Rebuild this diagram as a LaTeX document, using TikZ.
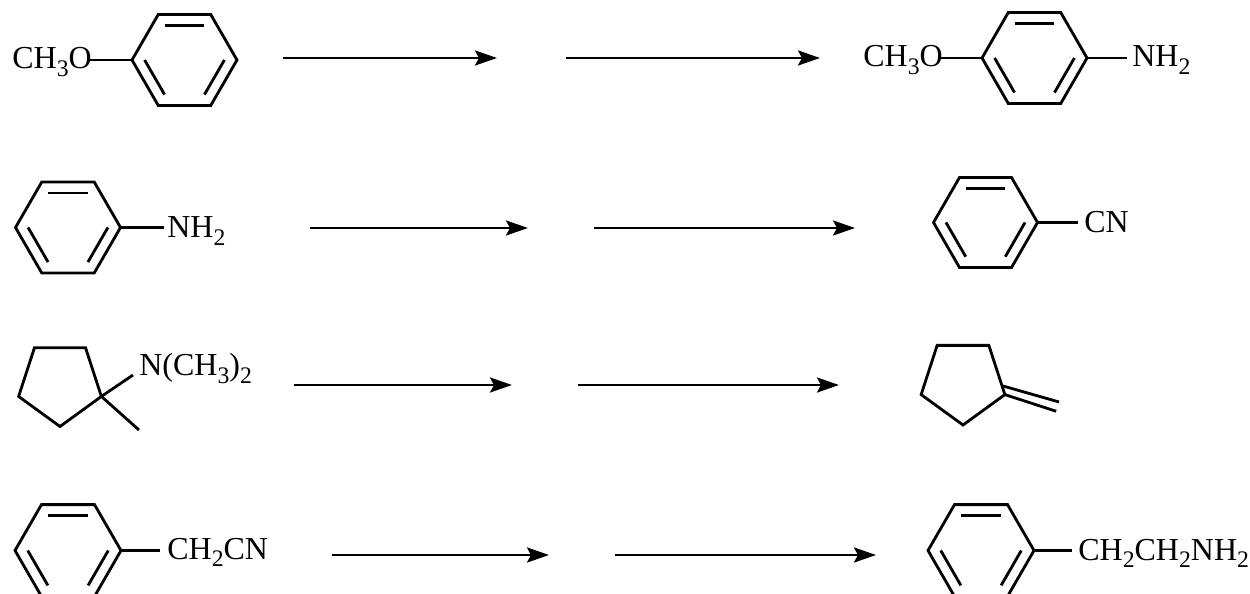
\documentclass[tikz,border=0pt]{standalone}
\usepackage{fontspec}
\setmainfont{Liberation Serif}
\usetikzlibrary{calc,arrows.meta}
\newcommand\sbs[1]{\raisebox{-0.22em}{\fontsize{13.5}{13.5}\selectfont #1}}
\tikzset{
  bond/.style={line width=1.6pt, line join=miter},
  lbl/.style={inner sep=0pt, font=\fontsize{18.2}{20}\selectfont},
  rxn/.style={line width=1.6pt, -{Stealth[length=0.44cm, width=0.3cm, inset=0.08cm]}}
}
\newcommand\benzring[4]{%
  \coordinate (#1-c) at (#2,#3);
  \foreach \a/\n in {0/R,60/BR,120/BL,180/L,240/TL,300/TR}{
    \coordinate (#1-\n) at ($(#1-c)+(\a:#4)$);
  }
  \draw[bond] (#1-R) -- (#1-BR) -- (#1-BL) -- (#1-L) -- (#1-TL) -- (#1-TR) -- cycle;
  \draw[bond] ($(#1-c)!0.76!(#1-TL)$) -- ($(#1-c)!0.76!(#1-TR)$);
  \draw[bond] ($(#1-c)!0.76!(#1-L)$) -- ($(#1-c)!0.76!(#1-BL)$);
  \draw[bond] ($(#1-c)!0.76!(#1-R)$) -- ($(#1-c)!0.76!(#1-BR)$);
}
\newcommand\pentring[4]{%
  \coordinate (#1-c) at (#2,#3);
  \foreach \a/\n in {18/R,90/B,162/LL,234/UL,306/UR}{
    \coordinate (#1-\n) at ($(#1-c)+(\a:#4)$);
  }
  \draw[bond] (#1-R) -- (#1-B) -- (#1-LL) -- (#1-UL) -- (#1-UR) -- cycle;
}
\begin{document}
\begin{tikzpicture}[x=0.02cm, y=-0.02cm]
\useasboundingbox (0,0) rectangle (1250,594);
\clip (0,0) rectangle (1250,594);

% ---------- Row 1 ----------
\benzring{a}{184.5}{60}{52.5}
\node[lbl, anchor=base west] (t1) at (12,69) {CH\sbs{3}O};
\coordinate (a-o) at ($(a-L)+(-42,0)$);
\draw[bond] (a-L) -- (a-o);

\benzring{b}{1034.5}{58}{52.5}
\node[lbl, anchor=base west] (t2) at (863,67) {CH\sbs{3}O};
\node[lbl, anchor=base west] (t3) at (1132,67) {NH\sbs{2}};
\coordinate (b-o) at ($(b-L)+(-41,0)$);
\coordinate (b-n) at ($(b-R)+(40,0)$);
\draw[bond] (b-L) -- (b-o);
\draw[bond] (b-R) -- (b-n);

\coordinate (r1a) at (283,58); \coordinate (r1b) at (497,58);
\coordinate (r1c) at (566,58); \coordinate (r1d) at (820,58);
\draw[rxn] (r1a) -- (r1b);
\draw[rxn] (r1c) -- (r1d);

% ---------- Row 2 ----------
\benzring{c}{68}{227.5}{52.5}
\node[lbl, anchor=base west] (t4) at (167,238) {NH\sbs{2}};
\coordinate (c-n) at ($(c-R)+(43,0)$);
\draw[bond] (c-R) -- (c-n);

\benzring{d}{985.5}{222.5}{52}
\node[lbl, anchor=base west] (t5) at (1084,232.5) {CN};
\coordinate (d-n) at ($(d-R)+(40,0)$);
\draw[bond] (d-R) -- (d-n);

\coordinate (r2a) at (310,228); \coordinate (r2b) at (528,228);
\coordinate (r2c) at (594,228); \coordinate (r2d) at (855,228);
\draw[rxn] (r2a) -- (r2b);
\draw[rxn] (r2c) -- (r2d);

% ---------- Row 3 ----------
\pentring{p}{60}{383}{43.5}
\coordinate (p-n) at (133,375);
\coordinate (p-me) at (139,430);
\draw[bond] (p-R) -- (p-n);
\draw[bond] (p-R) -- (p-me);
\node[lbl, anchor=base west] (t6) at (139,376) {N(CH\sbs{3})\sbs{2}};

\pentring{q}{963}{381}{44}
\coordinate (q-e1) at ($(q-R)+(18:54)$);
\coordinate (q-a) at (1003,386);
\coordinate (q-e2) at (1059,402);
\draw[bond] (q-R) -- (q-e1);
\draw[bond] (q-a) -- (q-e2);

\coordinate (r3a) at (294,385); \coordinate (r3b) at (512,385);
\coordinate (r3c) at (578,385); \coordinate (r3d) at (839,385);
\draw[rxn] (r3a) -- (r3b);
\draw[rxn] (r3c) -- (r3d);

% ---------- Row 4 ----------
\benzring{e}{68}{550.5}{53}
\node[lbl, anchor=base west] (t7) at (167,559.5) {CH\sbs{2}CN};
\coordinate (e-n) at ($(e-R)+(39,0)$);
\draw[bond] (e-R) -- (e-n);

\benzring{f}{981}{550.5}{53}
\node[lbl, anchor=base west] (t8) at (1078,560) {CH\sbs{2}CH\sbs{2}NH\sbs{2}};
\coordinate (f-n) at ($(f-R)+(38,0)$);
\draw[bond] (f-R) -- (f-n);

\coordinate (r4a) at (332,555); \coordinate (r4b) at (549,555);
\coordinate (r4c) at (615,555); \coordinate (r4d) at (876,555);
\draw[rxn] (r4a) -- (r4b);
\draw[rxn] (r4c) -- (r4d);
\end{tikzpicture}
\end{document}
